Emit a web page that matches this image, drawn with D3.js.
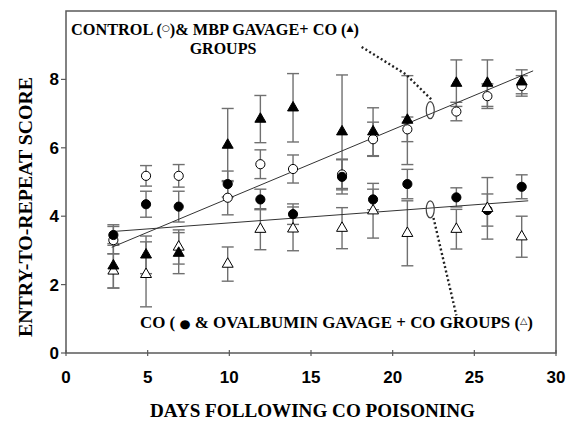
<!DOCTYPE html>
<html>
<head>
<meta charset="utf-8">
<script src="https://cdn.jsdelivr.net/npm/d3@7"></script>
<style>
  body { margin: 0; background: #fff; }
  svg { display: block; }
</style>
</head>
<body>
<div id="chart"></div>
<script>
const fig_width = 570
const fig_height = 422

// sampling days (x) shared by all four groups
const days = [2.9, 4.9, 6.9, 9.9, 11.9, 13.9, 16.9, 18.8, 20.9, 23.9, 25.8, 27.9]

// control (open circles)
const controlMean = [3.3, 5.18, 5.18, 4.54, 5.52, 5.38, 5.22, 6.25, 6.54, 7.06, 7.51, 7.81]
const controlErr  = [0.4, 0.3, 0.33, 0.5, 0.42, 0.41, 0.45, 0.5, 0.36, 0.27, 0.36, 0.3]
// MBP gavage + CO (filled triangles)
const mbpMean = [2.55, 2.87, 2.92, 6.08, 6.84, 7.17, 6.47, 6.47, 6.81, 7.89, 7.89, 7.93]
const mbpErr  = [0.65, 0.55, 0.6, 1.07, 0.69, 1.0, 1.66, 0.7, 1.3, 0.68, 0.68, 0.35]
// CO (filled circles)
const coMean = [3.45, 4.35, 4.28, 4.94, 4.49, 4.06, 5.15, 4.49, 4.94, 4.55, 4.18, 4.86]
const coErr  = [0.3, 0.38, 0.45, 0.38, 0.3, 0.3, 0.5, 0.3, 0.43, 0.28, 0.47, 0.35]
// ovalbumin gavage + CO (open triangles)
const ovaMean = [2.4, 2.3, 3.1, 2.6, 3.62, 3.63, 3.65, 4.16, 3.5, 3.62, 4.23, 3.4]
const ovaErr  = [0.5, 0.95, 0.5, 0.5, 0.6, 0.64, 0.6, 0.8, 0.95, 0.58, 0.9, 0.6]

// regression lines: [x start, y start, x end, y end]
const upperFit = [2.8, 3.09, 28.6, 8.25]
const lowerFit = [2.8, 3.55, 28.3, 4.45]

const xTicks = [0, 5, 10, 15, 20, 25, 30]
const yTicks = [0, 2, 4, 6, 8]

const x = d3.scaleLinear().domain([0, 30]).range([66, 556])
const y = d3.scaleLinear().domain([0, 10]).range([353, 11])

const svg = d3.select('#chart').append('svg')
    .attr('width', fig_width)
    .attr('height', fig_height)

const axisCol = '#5a5a5a'
const barCol = '#707070'

// frame
svg.append('rect')
    .attr('x', x(0)).attr('y', y(10))
    .attr('width', x(30) - x(0)).attr('height', y(0) - y(10))
    .attr('fill', 'none').attr('stroke', axisCol).attr('stroke-width', 1.5)

// ticks
svg.selectAll('line.xtick').data(xTicks).join('line')
    .attr('class', 'xtick')
    .attr('x1', d => x(d)).attr('x2', d => x(d))
    .attr('y1', y(0) - 3).attr('y2', y(0) + 3)
    .attr('stroke', axisCol).attr('stroke-width', 1.2)
svg.selectAll('line.ytick').data(yTicks).join('line')
    .attr('class', 'ytick')
    .attr('x1', x(0) - 5).attr('x2', x(0))
    .attr('y1', d => y(d)).attr('y2', d => y(d))
    .attr('stroke', axisCol).attr('stroke-width', 1.2)

const tickFont = 'bold 17px "Liberation Sans", Arial, sans-serif'
svg.selectAll('text.xlab').data(xTicks).join('text')
    .attr('class', 'xlab')
    .attr('x', d => x(d)).attr('y', y(0) + 30)
    .attr('text-anchor', 'middle')
    .style('font', tickFont)
    .text(d => d)
svg.selectAll('text.ylab').data(yTicks).join('text')
    .attr('class', 'ylab')
    .attr('x', x(0) - 7).attr('y', d => y(d) + 6)
    .attr('text-anchor', 'end')
    .style('font', tickFont)
    .text(d => d)

// axis titles
const titleFont = 'bold 18px "Liberation Serif", "Times New Roman", serif'
svg.append('text')
    .attr('x', 150).attr('y', 417)
    .attr('textLength', 325).attr('lengthAdjust', 'spacingAndGlyphs')
    .style('font', titleFont)
    .text('DAYS FOLLOWING CO POISONING')
svg.append('text')
    .attr('transform', 'translate(32,337) rotate(-90)')
    .attr('textLength', 260).attr('lengthAdjust', 'spacingAndGlyphs')
    .style('font', titleFont)
    .text('ENTRY-TO-REPEAT SCORE')

// groups
const groups = [
    {mean: controlMean, err: controlErr, shape: d3.symbolCircle, filled: false},
    {mean: coMean, err: coErr, shape: d3.symbolCircle, filled: true},
    {mean: ovaMean, err: ovaErr, shape: d3.symbolTriangle, filled: false},
    {mean: mbpMean, err: mbpErr, shape: d3.symbolTriangle, filled: true}
]

const cap = 6
groups.forEach(g => {
    const pts = days.map((d, i) => ({x: d, m: g.mean[i], e: g.err[i]}))
    const eb = svg.append('g').attr('stroke', barCol).attr('stroke-width', 1.4)
    eb.selectAll('line.v').data(pts).join('line')
        .attr('x1', d => x(d.x)).attr('x2', d => x(d.x))
        .attr('y1', d => y(d.m - d.e)).attr('y2', d => y(d.m + d.e))
    eb.selectAll('line.t').data(pts).join('line')
        .attr('x1', d => x(d.x) - cap).attr('x2', d => x(d.x) + cap)
        .attr('y1', d => y(d.m + d.e)).attr('y2', d => y(d.m + d.e))
    eb.selectAll('line.b').data(pts).join('line')
        .attr('x1', d => x(d.x) - cap).attr('x2', d => x(d.x) + cap)
        .attr('y1', d => y(d.m - d.e)).attr('y2', d => y(d.m - d.e))
})

// regression lines
;[upperFit, lowerFit].forEach(f => {
    svg.append('line')
        .attr('x1', x(f[0])).attr('y1', y(f[1]))
        .attr('x2', x(f[2])).attr('y2', y(f[3]))
        .attr('stroke', '#333').attr('stroke-width', 1)
})

groups.forEach(g => {
    const sym = d3.symbol().type(g.shape).size(g.shape === d3.symbolCircle ? 66 : 52)
    svg.append('g').selectAll('path').data(days.map((d, i) => [d, g.mean[i]])).join('path')
        .attr('d', sym)
        .attr('transform', d => `translate(${x(d[0])},${y(d[1])})`)
        .attr('fill', g.filled ? '#000' : '#fff')
        .attr('stroke', '#000').attr('stroke-width', 1)
})

// ellipses marking the fit lines and dotted leaders to the labels
const ellipses = [[22.3, 7.1], [22.3, 4.2]]
svg.selectAll('ellipse.mark').data(ellipses).join('ellipse')
    .attr('class', 'mark')
    .attr('cx', d => x(d[0])).attr('cy', d => y(d[1]))
    .attr('rx', 4).attr('ry', 8.5)
    .attr('fill', 'none').attr('stroke', '#444').attr('stroke-width', 1.2)

const leaders = [
    [[18.1, 8.95], [20.8, 8.15], [22.4, 7.4]],
    [[22.5, 3.95], [23.9, 1.1]]
]
leaders.forEach(l => {
    svg.append('path')
        .attr('d', d3.line().x(d => x(d[0])).y(d => y(d[1]))(l))
        .attr('fill', 'none').attr('stroke', '#222').attr('stroke-width', 2.4)
        .attr('stroke-dasharray', '2,2.5')
})

// annotation labels
const lblFont = 'bold 16px "Liberation Serif", "Times New Roman", serif'
const symFont = '"DejaVu Sans", sans-serif'
const t1 = svg.append('text').attr('x', 71).attr('y', 35).style('font', lblFont)
    .attr('textLength', 288).attr('lengthAdjust', 'spacingAndGlyphs')
t1.append('tspan').text('CONTROL (')
t1.append('tspan').attr('dy', -4).style('font-family', symFont).style('font-size', '9px').style('font-weight', 'normal').text('○')
t1.append('tspan').attr('dy', 4).text(')& MBP GAVAGE+ CO (')
t1.append('tspan').attr('dy', -4).style('font-family', symFont).style('font-size', '9px').text('▲')
t1.append('tspan').attr('dy', 4).text(')')
svg.append('text').attr('x', 223).attr('y', 54).attr('text-anchor', 'middle')
    .style('font', lblFont).text('GROUPS')

const t2 = svg.append('text').attr('x', 140).attr('y', 328).style('font', lblFont)
    .attr('textLength', 393).attr('lengthAdjust', 'spacingAndGlyphs')
t2.append('tspan').text('CO ( ')
t2.append('tspan').style('font-family', symFont).style('font-size', '12px').text('●')
t2.append('tspan').text(' & OVALBUMIN GAVAGE + CO GROUPS (')
t2.append('tspan').attr('dy', -4).style('font-family', symFont).style('font-size', '9px').style('font-weight', 'normal').text('△')
t2.append('tspan').attr('dy', 4).text(')')
</script>
</body>
</html>
